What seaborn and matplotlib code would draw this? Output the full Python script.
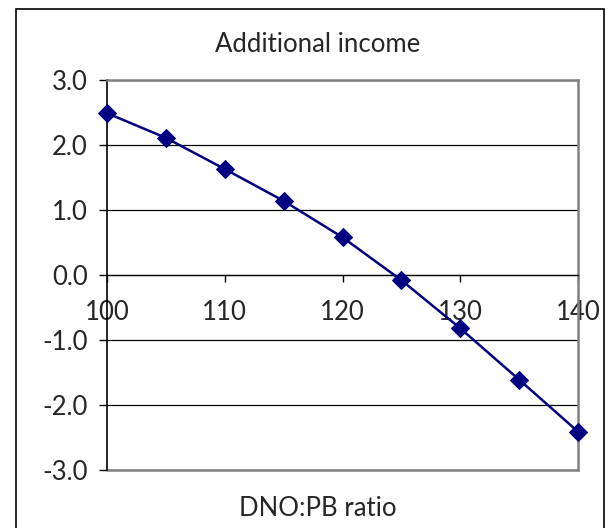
import matplotlib
matplotlib.use("Agg")
import matplotlib.pyplot as plt
import seaborn as sns
import pandas as pd
from matplotlib.patches import Rectangle

ratio = [100, 105, 110, 115, 120, 125, 130, 135, 140]
income = [2.49, 2.11, 1.63, 1.14, 0.58, -0.08, -0.82, -1.61, -2.41]
x_ticks = [100, 110, 120, 130, 140]
y_ticks = [-3.0, -2.0, -1.0, 0.0, 1.0, 2.0, 3.0]

sns.set_theme(style="white")
plt.rcParams['font.family'] = ['Lato', 'DejaVu Sans']

df = pd.DataFrame({"ratio": ratio, "income": income})

fig = plt.figure(figsize=(6.08, 5.28), dpi=100)
ax = fig.add_axes([107/608, (528-470)/528, (578-107)/608, (470-80)/528])

sns.lineplot(data=df, x="ratio", y="income", ax=ax, color="#000080",
             linewidth=1.8, marker="D", markersize=9, markeredgecolor="#000080",
             markerfacecolor="#000080", clip_on=False, zorder=5)

ax.set_xlim(100, 140)
ax.set_ylim(-3, 3)
ax.set_xticks(x_ticks)
ax.set_yticks(y_ticks)
ax.set_yticklabels([f"{v:.1f}" for v in y_ticks])
ax.set_xticklabels([str(v) for v in x_ticks])

for v in y_ticks:
    ax.axhline(v, color="#000000", lw=0.9, zorder=1)

ax.spines['bottom'].set_position(('data', 0))
ax.spines['bottom'].set_color("#000000")
ax.spines['bottom'].set_linewidth(0.9)
ax.spines['left'].set_color("#000000")
ax.spines['left'].set_linewidth(1.2)
for s in ['top', 'right']:
    ax.spines[s].set_color("#808080")
    ax.spines[s].set_linewidth(1.8)
ax.axhline(-3, color="#808080", lw=1.8, zorder=1, clip_on=False)

fs = 18.5
ax.tick_params(axis='y', direction='out', length=6, width=1, color="#000000",
               labelsize=fs, pad=8, left=True)
ax.tick_params(axis='x', direction='out', length=5, width=1, color="#000000",
               labelsize=fs, pad=13, bottom=True)

ax.set_xlabel("")
ax.set_ylabel("")
fig.text(318/608, 1-45/528, "Additional income", ha="center", va="center", fontsize=fs)
fig.text(318/608, 1-508/528, "DNO:PB ratio", ha="center", va="center", fontsize=fs)

fig.patches.append(Rectangle((16/608, -0.1), (604-16)/608, 1 - 9/528 + 0.1,
                             transform=fig.transFigure, fill=False,
                             edgecolor="#000000", lw=1.2))

fig.savefig("out.png", dpi=100)
